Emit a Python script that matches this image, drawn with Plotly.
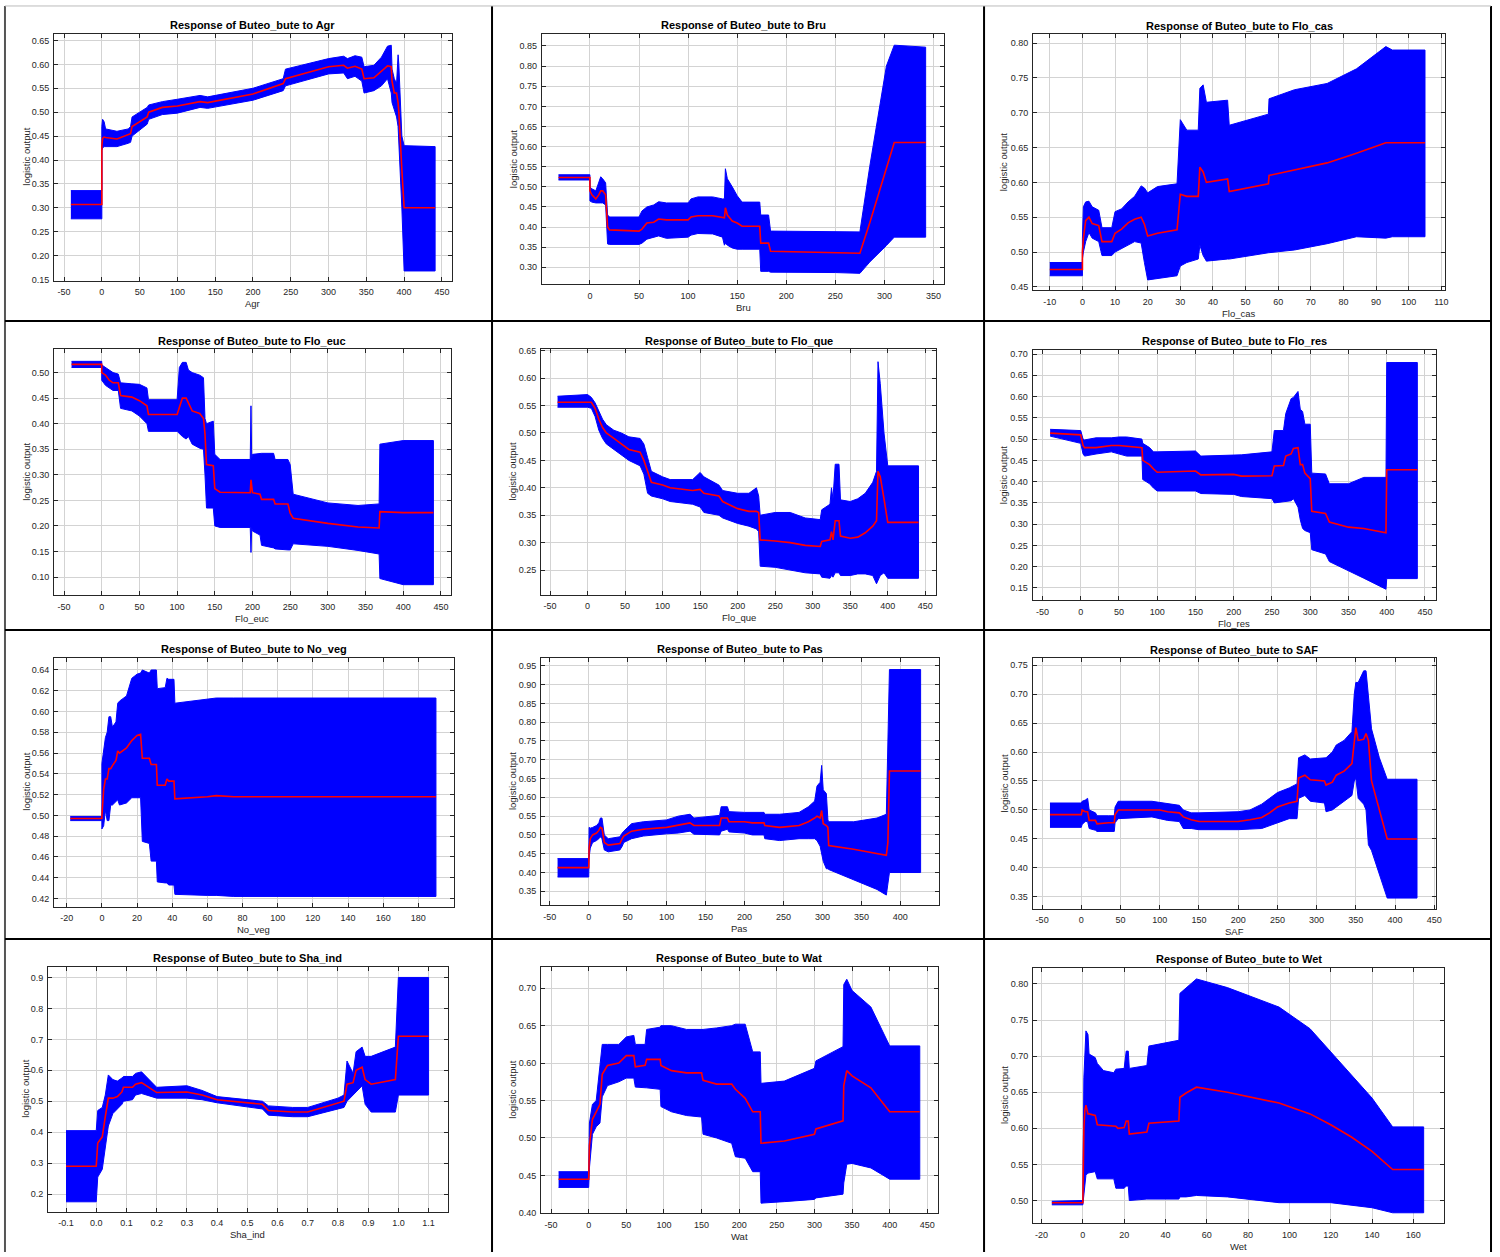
import plotly.graph_objects as go

W, H = 1500, 1257

# ---------------- data ----------------
agr_x = [-41, 0, 0, 1, 3, 5, 20, 35, 38, 40, 50, 60, 62, 80, 100, 130, 140, 200, 240, 243, 300, 320, 325, 335, 344, 347, 360, 370, 378, 383, 384, 387, 390, 392, 393, 397, 400, 441]
agr_mean = [0.307, 0.307, 0.43, 0.445, 0.448, 0.447, 0.444, 0.452, 0.455, 0.47, 0.48, 0.49, 0.50, 0.51, 0.513, 0.522, 0.52, 0.538, 0.56, 0.57, 0.595, 0.598, 0.592, 0.596, 0.59, 0.57, 0.572, 0.585, 0.597, 0.595, 0.565, 0.54, 0.54, 0.52, 0.50, 0.38, 0.30, 0.30]
agr_lower = [0.277, 0.277, 0.42, 0.425, 0.428, 0.428, 0.428, 0.435, 0.437, 0.45, 0.462, 0.475, 0.485, 0.495, 0.498, 0.51, 0.508, 0.525, 0.545, 0.555, 0.58, 0.582, 0.57, 0.575, 0.565, 0.54, 0.545, 0.555, 0.57, 0.54, 0.52, 0.505, 0.49, 0.47, 0.45, 0.30, 0.168, 0.168]
agr_upper = [0.336, 0.336, 0.47, 0.485, 0.48, 0.465, 0.46, 0.465, 0.47, 0.49, 0.50, 0.51, 0.515, 0.522, 0.527, 0.535, 0.532, 0.55, 0.57, 0.59, 0.612, 0.617, 0.612, 0.618, 0.615, 0.595, 0.598, 0.615, 0.638, 0.64, 0.59, 0.57, 0.56, 0.62, 0.60, 0.45, 0.43, 0.428]

bru_x = [-32, 0, 0, 2, 6, 9, 11, 13, 16, 18, 20, 50, 53, 58, 65, 70, 78, 100, 103, 110, 125, 135, 137, 138, 140, 145, 150, 155, 173, 174, 182, 184, 250, 275, 285, 295, 302, 310, 342]
bru_mean = [0.523, 0.523, 0.49, 0.48, 0.47, 0.48, 0.49, 0.49, 0.48, 0.40, 0.393, 0.39, 0.395, 0.41, 0.412, 0.42, 0.418, 0.418, 0.425, 0.428, 0.428, 0.423, 0.423, 0.448, 0.43, 0.415, 0.41, 0.402, 0.402, 0.36, 0.36, 0.34, 0.337, 0.335, 0.41, 0.49, 0.55, 0.61, 0.61]
bru_lower = [0.517, 0.517, 0.465, 0.462, 0.46, 0.46, 0.46, 0.46, 0.455, 0.358, 0.357, 0.357, 0.36, 0.37, 0.375, 0.378, 0.372, 0.375, 0.38, 0.384, 0.383, 0.375, 0.355, 0.36, 0.355, 0.348, 0.345, 0.345, 0.345, 0.29, 0.29, 0.288, 0.287, 0.285, 0.313, 0.337, 0.354, 0.375, 0.375]
bru_upper = [0.53, 0.53, 0.50, 0.495, 0.49, 0.51, 0.525, 0.52, 0.51, 0.43, 0.425, 0.425, 0.44, 0.45, 0.455, 0.463, 0.46, 0.46, 0.47, 0.475, 0.475, 0.47, 0.47, 0.545, 0.52, 0.50, 0.478, 0.462, 0.462, 0.43, 0.43, 0.39, 0.388, 0.388, 0.55, 0.70, 0.80, 0.852, 0.847]

flocas_x = [-10, 0, 0, 0.3, 1, 2, 3, 5, 6, 9, 10, 12, 14, 16, 18, 19, 20, 23, 29, 30, 32, 35.5, 36, 37, 38, 44.5, 45, 57, 57.2, 65, 75, 84, 93, 95, 105]
flocas_mean = [0.475, 0.475, 0.50, 0.52, 0.545, 0.55, 0.541, 0.538, 0.515, 0.515, 0.527, 0.533, 0.542, 0.547, 0.55, 0.54, 0.523, 0.527, 0.532, 0.583, 0.58, 0.58, 0.622, 0.615, 0.60, 0.605, 0.587, 0.598, 0.61, 0.618, 0.628, 0.642, 0.657, 0.657, 0.657]
flocas_lower = [0.466, 0.466, 0.49, 0.50, 0.515, 0.528, 0.52, 0.515, 0.495, 0.495, 0.50, 0.505, 0.51, 0.515, 0.513, 0.485, 0.46, 0.462, 0.466, 0.48, 0.485, 0.49, 0.51, 0.495, 0.487, 0.49, 0.49, 0.499, 0.499, 0.503, 0.512, 0.522, 0.52, 0.522, 0.522]
flocas_upper = [0.485, 0.485, 0.52, 0.565, 0.572, 0.573, 0.565, 0.56, 0.535, 0.535, 0.558, 0.562, 0.572, 0.58, 0.595, 0.592, 0.585, 0.594, 0.598, 0.69, 0.675, 0.675, 0.735, 0.74, 0.715, 0.718, 0.682, 0.698, 0.72, 0.733, 0.742, 0.763, 0.795, 0.79, 0.79]

floeuc_x = [-40, 0, 0, 5, 10, 15, 22, 25, 40, 50, 60, 62, 100, 103, 107, 112, 115, 120, 130, 135, 137, 139, 148, 150, 157, 197, 198, 199, 200, 210, 212, 228, 230, 247, 250, 254, 300, 340, 368, 369, 400, 440]
floeuc_mean = [0.516, 0.516, 0.50, 0.495, 0.485, 0.48, 0.48, 0.455, 0.452, 0.445, 0.435, 0.418, 0.418, 0.43, 0.45, 0.45, 0.44, 0.425, 0.42, 0.41, 0.38, 0.32, 0.318, 0.273, 0.266, 0.265, 0.29, 0.265, 0.265, 0.262, 0.252, 0.252, 0.243, 0.243, 0.225, 0.215, 0.205, 0.198, 0.196, 0.228, 0.226, 0.226]
floeuc_lower = [0.51, 0.51, 0.485, 0.475, 0.47, 0.465, 0.465, 0.43, 0.425, 0.415, 0.40, 0.385, 0.385, 0.38, 0.375, 0.37, 0.375, 0.36, 0.352, 0.35, 0.30, 0.235, 0.235, 0.20, 0.197, 0.197, 0.148, 0.197, 0.19, 0.182, 0.162, 0.157, 0.155, 0.153, 0.153, 0.165, 0.16, 0.152, 0.145, 0.097, 0.085, 0.085]
floeuc_upper = [0.522, 0.522, 0.515, 0.51, 0.505, 0.50, 0.497, 0.48, 0.478, 0.477, 0.47, 0.447, 0.447, 0.51, 0.52, 0.52, 0.505, 0.50, 0.495, 0.49, 0.41, 0.40, 0.405, 0.34, 0.33, 0.33, 0.435, 0.33, 0.34, 0.342, 0.342, 0.342, 0.33, 0.33, 0.32, 0.262, 0.245, 0.24, 0.243, 0.36, 0.367, 0.367]

floque_x = [-40, 0, 5, 10, 15, 20, 25, 35, 45, 55, 70, 75, 80, 85, 100, 110, 140, 150, 155, 175, 180, 200, 215, 225, 228, 230, 250, 270, 290, 310, 312, 323, 325, 327, 330, 335, 337, 350, 360, 370, 380, 385, 387, 390, 395, 400, 441]
floque_mean = [0.556, 0.556, 0.556, 0.545, 0.525, 0.51, 0.50, 0.49, 0.48, 0.47, 0.465, 0.45, 0.43, 0.41, 0.405, 0.40, 0.395, 0.397, 0.39, 0.385, 0.375, 0.362, 0.357, 0.357, 0.355, 0.305, 0.303, 0.30, 0.295, 0.293, 0.302, 0.305, 0.32, 0.305, 0.34, 0.34, 0.312, 0.308, 0.31, 0.318, 0.33, 0.34, 0.43, 0.42, 0.38, 0.337, 0.337]
floque_lower = [0.547, 0.547, 0.545, 0.53, 0.505, 0.49, 0.48, 0.47, 0.46, 0.45, 0.44, 0.425, 0.39, 0.385, 0.38, 0.375, 0.37, 0.365, 0.355, 0.35, 0.345, 0.335, 0.33, 0.325, 0.32, 0.257, 0.255, 0.25, 0.245, 0.243, 0.237, 0.235, 0.24, 0.237, 0.245, 0.245, 0.24, 0.24, 0.243, 0.243, 0.24, 0.225, 0.23, 0.24, 0.245, 0.235, 0.235]
floque_upper = [0.567, 0.57, 0.565, 0.555, 0.54, 0.525, 0.515, 0.505, 0.50, 0.493, 0.49, 0.48, 0.455, 0.43, 0.42, 0.415, 0.415, 0.428, 0.42, 0.405, 0.395, 0.39, 0.39, 0.40, 0.385, 0.35, 0.355, 0.355, 0.345, 0.342, 0.36, 0.37, 0.40, 0.38, 0.443, 0.443, 0.378, 0.375, 0.38, 0.39, 0.41, 0.43, 0.63, 0.59, 0.50, 0.44, 0.44]

flores_x = [-40, 0, 3, 5, 20, 40, 50, 60, 80, 81, 90, 95, 100, 150, 157, 200, 210, 250, 253, 265, 268, 275, 278, 284, 287, 290, 293, 300, 302, 320, 325, 350, 370, 399, 400, 440]
flores_mean = [0.514, 0.51, 0.485, 0.48, 0.48, 0.485, 0.485, 0.483, 0.48, 0.45, 0.44, 0.43, 0.422, 0.425, 0.416, 0.417, 0.413, 0.414, 0.437, 0.438, 0.46, 0.465, 0.478, 0.48, 0.44, 0.44, 0.42, 0.407, 0.33, 0.325, 0.305, 0.293, 0.29, 0.28, 0.428, 0.428]
flores_lower = [0.507, 0.49, 0.465, 0.46, 0.465, 0.47, 0.465, 0.46, 0.46, 0.405, 0.395, 0.385, 0.378, 0.378, 0.372, 0.37, 0.365, 0.36, 0.35, 0.352, 0.353, 0.355, 0.36, 0.34, 0.31, 0.29, 0.285, 0.28, 0.24, 0.23, 0.212, 0.19, 0.173, 0.147, 0.172, 0.172]
flores_upper = [0.523, 0.52, 0.50, 0.498, 0.503, 0.503, 0.505, 0.505, 0.50, 0.49, 0.48, 0.47, 0.47, 0.472, 0.46, 0.463, 0.463, 0.47, 0.52, 0.52, 0.56, 0.595, 0.598, 0.612, 0.57, 0.565, 0.535, 0.535, 0.42, 0.418, 0.395, 0.395, 0.41, 0.41, 0.68, 0.68]

noveg_x = [-18, 0, 0, 1, 2, 3, 4, 5, 6, 8, 9, 10, 14, 17, 20, 22, 23, 27, 28, 31, 31.5, 36, 37, 38, 41, 41.5, 60, 65, 75, 190]
noveg_mean = [0.497, 0.497, 0.50, 0.525, 0.535, 0.535, 0.545, 0.545, 0.548, 0.553, 0.562, 0.56, 0.565, 0.572, 0.577, 0.578, 0.555, 0.555, 0.549, 0.549, 0.529, 0.529, 0.535, 0.533, 0.533, 0.516, 0.518, 0.519, 0.518, 0.518]
noveg_lower = [0.495, 0.495, 0.487, 0.49, 0.505, 0.495, 0.495, 0.51, 0.51, 0.513, 0.515, 0.51, 0.512, 0.517, 0.517, 0.517, 0.475, 0.473, 0.456, 0.456, 0.436, 0.435, 0.435, 0.433, 0.433, 0.424, 0.423, 0.423, 0.422, 0.422]
noveg_upper = [0.499, 0.499, 0.55, 0.565, 0.575, 0.58, 0.595, 0.595, 0.585, 0.59, 0.608, 0.61, 0.615, 0.632, 0.636, 0.637, 0.64, 0.637, 0.64, 0.64, 0.622, 0.623, 0.632, 0.631, 0.631, 0.608, 0.612, 0.613, 0.613, 0.613]

pas_x = [-40, 0, 0.5, 2, 5, 10, 13, 15, 17, 20, 25, 40, 43, 45, 55, 70, 100, 115, 130, 135, 168, 170, 178, 180, 200, 210, 225, 226, 245, 270, 282, 290, 293, 297, 299, 301, 305, 307, 308, 340, 370, 382, 384, 386, 426]
pas_mean = [0.413, 0.413, 0.465, 0.49, 0.50, 0.505, 0.512, 0.52, 0.518, 0.48, 0.473, 0.477, 0.49, 0.497, 0.51, 0.515, 0.52, 0.527, 0.532, 0.525, 0.525, 0.545, 0.545, 0.535, 0.535, 0.532, 0.532, 0.525, 0.52, 0.525, 0.535, 0.545, 0.55, 0.545, 0.565, 0.53, 0.525, 0.52, 0.472, 0.462, 0.45, 0.446, 0.48, 0.67, 0.67]
pas_lower = [0.388, 0.388, 0.44, 0.465, 0.48, 0.485, 0.49, 0.495, 0.49, 0.46, 0.455, 0.46, 0.47, 0.48, 0.49, 0.497, 0.503, 0.505, 0.51, 0.502, 0.50, 0.51, 0.515, 0.508, 0.505, 0.50, 0.50, 0.49, 0.485, 0.49, 0.49, 0.49, 0.485, 0.47, 0.45, 0.43, 0.41, 0.41, 0.408, 0.38, 0.355, 0.34, 0.37, 0.40, 0.40]
pas_upper = [0.437, 0.437, 0.52, 0.518, 0.52, 0.525, 0.532, 0.545, 0.545, 0.50, 0.49, 0.495, 0.505, 0.51, 0.53, 0.535, 0.54, 0.55, 0.555, 0.545, 0.552, 0.575, 0.575, 0.562, 0.56, 0.56, 0.56, 0.555, 0.555, 0.56, 0.575, 0.59, 0.63, 0.64, 0.685, 0.62, 0.61, 0.54, 0.535, 0.535, 0.545, 0.555, 0.78, 0.94, 0.94]

saf_x = [-40, 0, 1, 5, 8, 10, 18, 20, 35, 42, 43, 47, 90, 100, 110, 125, 130, 140, 150, 200, 215, 230, 240, 250, 265, 275, 277, 285, 292, 310, 312, 320, 325, 335, 345, 348, 350, 353, 360, 363, 366, 370, 380, 390, 428]
saf_mean = [0.492, 0.492, 0.50, 0.497, 0.497, 0.482, 0.482, 0.476, 0.478, 0.478, 0.492, 0.50, 0.50, 0.50, 0.497, 0.495, 0.488, 0.483, 0.48, 0.48, 0.483, 0.487, 0.495, 0.505, 0.512, 0.515, 0.555, 0.56, 0.552, 0.55, 0.543, 0.548, 0.56, 0.567, 0.58, 0.62, 0.642, 0.62, 0.622, 0.632, 0.62, 0.55, 0.50, 0.45, 0.45]
saf_lower = [0.47, 0.47, 0.475, 0.48, 0.48, 0.468, 0.465, 0.463, 0.463, 0.463, 0.478, 0.485, 0.488, 0.485, 0.482, 0.48, 0.468, 0.468, 0.466, 0.466, 0.467, 0.468, 0.472, 0.478, 0.485, 0.485, 0.52, 0.525, 0.515, 0.512, 0.497, 0.50, 0.505, 0.515, 0.525, 0.55, 0.555, 0.52, 0.51, 0.50, 0.44, 0.43, 0.39, 0.348, 0.348]
saf_upper = [0.512, 0.512, 0.515, 0.517, 0.52, 0.50, 0.495, 0.49, 0.49, 0.49, 0.505, 0.515, 0.515, 0.513, 0.51, 0.508, 0.50, 0.495, 0.495, 0.497, 0.50, 0.51, 0.52, 0.53, 0.538, 0.545, 0.59, 0.595, 0.588, 0.59, 0.59, 0.60, 0.612, 0.62, 0.635, 0.70, 0.72, 0.72, 0.74, 0.74, 0.70, 0.64, 0.59, 0.553, 0.553]

shaind_x = [-0.1, 0.0, 0.005, 0.02, 0.03, 0.04, 0.055, 0.07, 0.085, 0.09, 0.12, 0.13, 0.15, 0.2, 0.3, 0.35, 0.4, 0.5, 0.55, 0.57, 0.65, 0.7, 0.75, 0.8, 0.82, 0.83, 0.85, 0.86, 0.88, 0.89, 0.91, 0.99, 1.0, 1.1]
shaind_mean = [0.29, 0.29, 0.365, 0.385, 0.45, 0.51, 0.51, 0.515, 0.53, 0.545, 0.545, 0.555, 0.56, 0.528, 0.53, 0.52, 0.505, 0.495, 0.49, 0.47, 0.465, 0.465, 0.48, 0.495, 0.5, 0.555, 0.56, 0.6, 0.61, 0.57, 0.555, 0.57, 0.71, 0.71]
shaind_lower = [0.175, 0.175, 0.255, 0.28, 0.34, 0.42, 0.46, 0.475, 0.49, 0.50, 0.505, 0.52, 0.525, 0.51, 0.51, 0.505, 0.495, 0.482, 0.475, 0.455, 0.45, 0.45, 0.462, 0.475, 0.48, 0.50, 0.52, 0.53, 0.55, 0.49, 0.465, 0.465, 0.52, 0.52]
shaind_upper = [0.405, 0.405, 0.47, 0.48, 0.52, 0.585, 0.57, 0.565, 0.575, 0.58, 0.58, 0.59, 0.595, 0.545, 0.55, 0.535, 0.515, 0.505, 0.5, 0.485, 0.48, 0.48, 0.495, 0.51, 0.52, 0.63, 0.59, 0.66, 0.675, 0.645, 0.645, 0.675, 0.9, 0.9]

wat_x = [-40, 0, 1, 5, 10, 15, 18, 25, 40, 50, 60, 62, 75, 77, 95, 96, 110, 130, 150, 152, 170, 190, 195, 208, 218, 228, 229, 260, 300, 302, 338, 339, 343, 350, 375, 400, 440]
wat_mean = [0.445, 0.445, 0.49, 0.525, 0.535, 0.545, 0.585, 0.597, 0.60, 0.61, 0.61, 0.595, 0.597, 0.605, 0.605, 0.597, 0.59, 0.587, 0.587, 0.577, 0.572, 0.572, 0.565, 0.553, 0.535, 0.535, 0.493, 0.496, 0.505, 0.512, 0.523, 0.57, 0.59, 0.583, 0.567, 0.535, 0.535]
wat_lower = [0.434, 0.434, 0.46, 0.505, 0.515, 0.52, 0.555, 0.57, 0.575, 0.58, 0.58, 0.568, 0.567, 0.567, 0.565, 0.542, 0.535, 0.53, 0.528, 0.505, 0.50, 0.493, 0.475, 0.473, 0.455, 0.455, 0.413, 0.415, 0.418, 0.42, 0.425, 0.44, 0.465, 0.466, 0.46, 0.445, 0.445]
wat_upper = [0.455, 0.455, 0.52, 0.545, 0.55, 0.60, 0.625, 0.625, 0.625, 0.635, 0.637, 0.625, 0.625, 0.645, 0.648, 0.65, 0.65, 0.645, 0.645, 0.645, 0.647, 0.65, 0.652, 0.652, 0.615, 0.615, 0.573, 0.576, 0.593, 0.603, 0.622, 0.705, 0.712, 0.697, 0.675, 0.623, 0.623]

wet_x = [-15, 0, 0.5, 1, 1.5, 2.5, 3, 6, 7, 10, 15, 16, 17, 20, 21, 22, 22.5, 31, 32, 46.5, 47, 50, 55, 70, 95, 110, 120, 130, 140, 150, 165]
wet_mean = [0.497, 0.497, 0.6, 0.625, 0.632, 0.62, 0.62, 0.618, 0.605, 0.604, 0.603, 0.603, 0.6, 0.601, 0.61, 0.61, 0.592, 0.595, 0.607, 0.61, 0.643, 0.649, 0.657, 0.650, 0.635, 0.62, 0.605, 0.588, 0.568, 0.543, 0.543]
wet_lower = [0.494, 0.494, 0.51, 0.52, 0.535, 0.538, 0.538, 0.54, 0.53, 0.53, 0.53, 0.517, 0.517, 0.517, 0.52, 0.52, 0.50, 0.502, 0.502, 0.502, 0.505, 0.505, 0.507, 0.505, 0.497, 0.497, 0.497, 0.494, 0.49, 0.483, 0.483]
wet_upper = [0.499, 0.5, 0.67, 0.72, 0.735, 0.73, 0.703, 0.698, 0.69, 0.68, 0.677, 0.682, 0.682, 0.683, 0.707, 0.707, 0.683, 0.687, 0.714, 0.722, 0.787, 0.795, 0.807, 0.795, 0.768, 0.738, 0.706, 0.674, 0.642, 0.602, 0.602]

variables = ["Agr", "Bru", "Flo_cas", "Flo_euc", "Flo_que", "Flo_res",
             "No_veg", "Pas", "SAF", "Sha_ind", "Wat", "Wet"]
series = [
    (agr_x, agr_mean, agr_lower, agr_upper),
    (bru_x, bru_mean, bru_lower, bru_upper),
    (flocas_x, flocas_mean, flocas_lower, flocas_upper),
    (floeuc_x, floeuc_mean, floeuc_lower, floeuc_upper),
    (floque_x, floque_mean, floque_lower, floque_upper),
    (flores_x, flores_mean, flores_lower, flores_upper),
    (noveg_x, noveg_mean, noveg_lower, noveg_upper),
    (pas_x, pas_mean, pas_lower, pas_upper),
    (saf_x, saf_mean, saf_lower, saf_upper),
    (shaind_x, shaind_mean, shaind_lower, shaind_upper),
    (wat_x, wat_mean, wat_lower, wat_upper),
    (wet_x, wet_mean, wet_lower, wet_upper),
]

# x tick (start, stop, step), y tick (start, stop, step)
x_ticks = [(-50, 450, 50), (0, 350, 50), (-10, 110, 10), (-50, 450, 50), (-50, 450, 50), (-50, 450, 50),
           (-20, 180, 20), (-50, 400, 50), (-50, 450, 50), (-0.1, 1.1, 0.1), (-50, 450, 50), (-20, 160, 20)]
y_ticks = [(0.15, 0.65, 0.05), (0.30, 0.85, 0.05), (0.45, 0.80, 0.05), (0.10, 0.50, 0.05), (0.25, 0.65, 0.05),
           (0.15, 0.70, 0.05), (0.42, 0.64, 0.02), (0.35, 0.95, 0.05), (0.35, 0.75, 0.05), (0.2, 0.9, 0.1),
           (0.40, 0.70, 0.05), (0.50, 0.80, 0.05)]
x_dec = [0, 0, 0, 0, 0, 0, 0, 0, 0, 1, 0, 0]
y_dec = [2, 2, 2, 2, 2, 2, 2, 2, 2, 1, 2, 2]

# ---------------- layout geometry (pixels) ----------------
boxes = [  # left, right, top, bottom
    (54.3, 453.7, 30.7, 279.3), (544, 948, 30.7, 282.7), (1037.3, 1450.7, 31.7, 289.3),
    (54.3, 452.7, 348.3, 596), (543.3, 939.7, 348.3, 595.3), (1036.7, 1442, 349, 601),
    (54.3, 455.7, 658.7, 909.3), (543.3, 942.3, 658.7, 908), (1036.7, 1442, 659.3, 911.3),
    (48.3, 449.3, 969.7, 1216.3), (543.3, 941.3, 969.7, 1218), (1037.3, 1449.7, 971, 1227.7),
]
x_ranges = [(-63.2, 463.2), (-49, 360.9), (-15.1, 111.1), (-63.2, 463.2), (-61.9, 464.2), (-63, 464.7),
            (-27.2, 200.2), (-61.1, 449), (-62.2, 452.5), (-0.1593, 1.1626), (-63.2, 463.6), (-24.05, 174.8)]
y_ranges = [(0.148, 0.6645), (0.2588, 0.881), (0.4449, 0.8123), (0.0644, 0.546), (0.2054, 0.653), (0.1213, 0.710),
            (0.4123, 0.652), (0.313, 0.972), (0.330, 0.762), (0.1435, 0.9353), (0.3995, 0.729), (0.469, 0.8224)]
ytitle_off = [28.5, 28.5, 29.5, 28.5, 28.5, 28.5, 28.5, 28.5, 28.5, 23.5, 28.5, 28.5]


def make_ticks(spec, dec):
    a, b, s = spec
    n = int(round((b - a) / s))
    vals = [round(a + i * s, 6) for i in range(n + 1)]
    txt = [f"{v:.{dec}f}" for v in vals]
    txt = ["0" if (dec == 0 and t == "-0") else t for t in txt]
    return vals, txt


def px(x):
    return x / W


def py(y):
    return 1 - y / H


FONT = "Liberation Sans, Arial, sans-serif"
AX = "#262626"
BLUE = "#0000ff"
RED = "#ff0000"

fig = go.Figure()
annotations = []
layout = {}

for i, (name, (xs, mn, lo, hi)) in enumerate(zip(variables, series)):
    k = i + 1
    xa = "x" if k == 1 else f"x{k}"
    ya = "y" if k == 1 else f"y{k}"
    L, R, T, B = boxes[i]

    fig.add_trace(go.Scatter(
        x=list(xs) + list(xs)[::-1], y=list(hi) + list(lo)[::-1],
        fill="toself", fillcolor=BLUE, mode="lines",
        line=dict(color=BLUE, width=1), xaxis=xa, yaxis=ya,
        hoverinfo="skip", showlegend=False))
    fig.add_trace(go.Scatter(
        x=xs, y=mn, mode="lines", line=dict(color=RED, width=1.6),
        xaxis=xa, yaxis=ya, showlegend=False))

    xv, xt = make_ticks(x_ticks[i], x_dec[i])
    yv, yt = make_ticks(y_ticks[i], y_dec[i])
    common = dict(ticks="inside", ticklen=4, tickcolor=AX, showline=True, linecolor=AX,
                  linewidth=1, mirror="ticks", showgrid=True, gridcolor="#d3d3d3",
                  gridwidth=1, zeroline=False,
                  tickfont=dict(family=FONT, size=9, color=AX))
    layout["xaxis" if k == 1 else f"xaxis{k}"] = dict(
        common, domain=[px(L), px(R)], range=list(x_ranges[i]), anchor=ya,
        tickvals=xv, ticktext=xt, ticklabelstandoff=3)
    layout["yaxis" if k == 1 else f"yaxis{k}"] = dict(
        common, domain=[py(B), py(T)], range=list(y_ranges[i]), anchor=xa,
        tickvals=yv, ticktext=yt, ticklabelstandoff=2)

    cx = (L + R) / 2
    annotations.append(dict(text=f"<b>Response of Buteo_bute to {name}</b>", x=px(cx), y=py(T - 8.5),
                            xref="paper", yref="paper", showarrow=False, xanchor="center", yanchor="middle",
                            font=dict(family=FONT, size=11, color="#000000")))
    annotations.append(dict(text=name, x=px(cx), y=py(B + 23.5), xref="paper", yref="paper",
                            showarrow=False, xanchor="center", yanchor="middle",
                            font=dict(family=FONT, size=9.5, color=AX)))
    annotations.append(dict(text="logistic output", x=px(L - ytitle_off[i]), y=py((T + B) / 2),
                            xref="paper", yref="paper", showarrow=False, textangle=-90,
                            xanchor="center", yanchor="middle",
                            font=dict(family=FONT, size=9.5, color=AX)))

# table borders
shapes = []
for xv_ in [5, 494, 988, 1497]:
    shapes.append(dict(type="line", xref="paper", yref="paper", x0=px(xv_), x1=px(xv_), y0=0, y1=py(3),
                       line=dict(color="#000000" if xv_ != 5 else "#555555", width=2)))
for yv_ in [320, 631, 942]:
    shapes.append(dict(type="line", xref="paper", yref="paper", x0=px(5), x1=px(1497), y0=py(yv_), y1=py(yv_),
                       line=dict(color="#000000", width=2)))
shapes.append(dict(type="line", xref="paper", yref="paper", x0=px(5), x1=px(1497), y0=py(3), y1=py(3),
                   line=dict(color="#bbbbbb", width=1)))

fig.update_layout(**layout)
fig.update_layout(width=W, height=H, margin=dict(l=0, r=0, t=0, b=0),
                  paper_bgcolor="white", plot_bgcolor="white", showlegend=False,
                  annotations=annotations, shapes=shapes)

fig.write_html("out.html", config={"displayModeBar": False},
               post_script="document.body.style.margin='0px';document.body.style.overflow='hidden';")
